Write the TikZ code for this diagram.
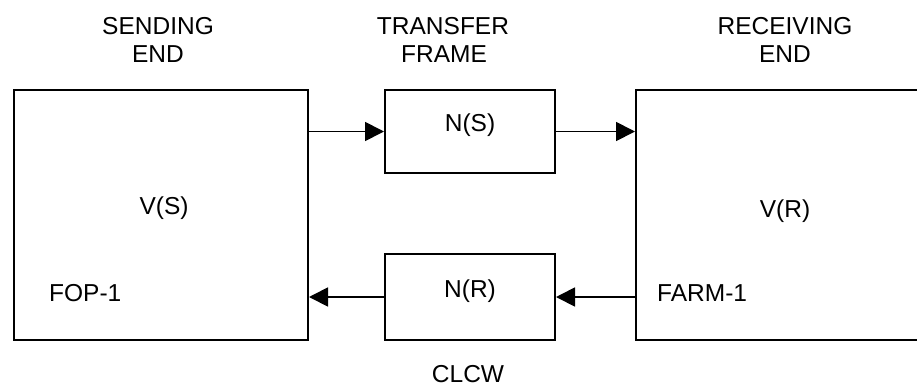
\documentclass[tikz,border=0pt]{standalone}
\usepackage{fontspec}
\setmainfont{Liberation Sans}
\usetikzlibrary{arrows.meta}
\newcommand{\lblfont}{\fontsize{24.5}{28}\selectfont}
\begin{document}
\begin{tikzpicture}[x=1pt,y=-1pt,
  box/.style={draw, line width=2pt, inner sep=0pt, anchor=north west},
  lbl/.style={anchor=base, inner sep=0pt, font=\lblfont},
  arr/.style={line width=1.8pt, -{Triangle[length=19pt,width=19pt]}}]
\useasboundingbox (0,0) rectangle (917,386);
\clip (0,0) rectangle (917,386);
% boxes
\node[box, minimum width=294pt, minimum height=250pt] (send) at (13,89) {};
\node[box, minimum width=170pt, minimum height=83pt] (ns) at (384,89) {};
\node[box, minimum width=170pt, minimum height=86pt] (nr) at (384,253) {};
\node[box, minimum width=300pt, minimum height=250pt] (recv) at (635,89) {};
% connectors
\draw[arr] (send.east |- ns.west) -- (ns.west);
\draw[arr] (ns.east) -- (recv.west |- ns.east);
\draw[arr] (recv.west |- nr.east) -- (nr.east);
\draw[arr] (nr.west) -- (send.east |- nr.west);
% labels
\node[lbl] (h1a) at (158,34) {SENDING};
\node[lbl] (h1b) at (158,62) {END};
\node[lbl] (h2a) at (443,34) {TRANSFER};
\node[lbl] (h2b) at (444,62) {FRAME};
\node[lbl] (h3a) at (785,34) {RECEIVING};
\node[lbl] (h3b) at (785,62) {END};
\node[lbl] (vs) at (164,214) {V(S)};
\node[lbl, anchor=base west] (fop) at (49,301) {FOP-1};
\node[lbl] (nsl) at (470,131.5) {N(S)};
\node[lbl] (nrl) at (470,297.5) {N(R)};
\node[lbl] (vr) at (785,217) {V(R)};
\node[lbl, anchor=base west] (farm) at (657,301) {FARM-1};
\node[lbl] (clcw) at (468,382) {CLCW};
\end{tikzpicture}
\end{document}
